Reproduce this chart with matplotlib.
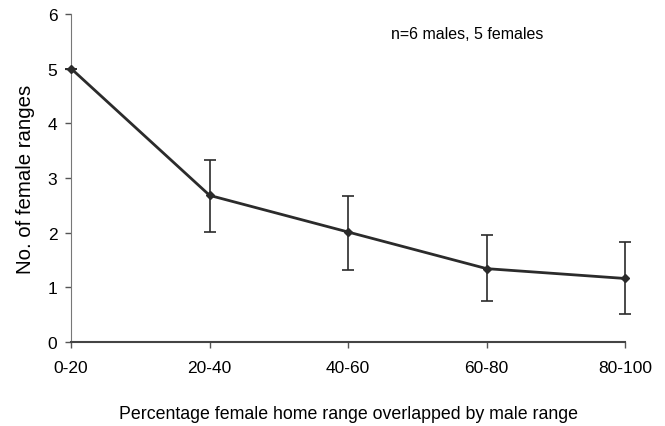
import matplotlib.pyplot as plt

categories = ["0-20", "20-40", "40-60", "60-80", "80-100"]
mean_ranges = [5.0, 2.68, 2.01, 1.34, 1.16]
err_low = [5.0, 2.01, 1.32, 0.74, 0.51]
err_high = [5.0, 3.33, 2.67, 1.96, 1.83]

yerr = [[m - lo for m, lo in zip(mean_ranges, err_low)],
        [hi - m for m, hi in zip(mean_ranges, err_high)]]

plt.rcParams['font.family'] = ['Liberation Sans', 'DejaVu Sans']

fig = plt.figure(figsize=(6.65, 4.27), dpi=100)
ax = fig.add_axes([0.107, 0.197, 0.833, 0.768])

x = list(range(len(categories)))
ax.errorbar(x, mean_ranges, yerr=yerr, color='#2b2b2b', linewidth=2,
            marker='D', markersize=4, elinewidth=1.2, ecolor='#2b2b2b',
            capsize=4, capthick=1.2, clip_on=False, zorder=3)

ax.set_xlim(0, 4)
ax.set_ylim(0, 6)
ax.set_yticks(range(0, 7))
ax.set_xticks(x)
ax.set_xticklabels(categories)
ax.tick_params(axis='both', labelsize=12.5, color='#555555', length=4, width=1)
ax.tick_params(axis='x', pad=9)
ax.tick_params(axis='y', pad=6)

for side in ['top', 'right']:
    ax.spines[side].set_visible(False)
ax.spines['left'].set_color('#777777')
ax.spines['bottom'].set_color('#444444')
ax.spines['bottom'].set_linewidth(1.5)

ax.set_ylabel("No. of female ranges", fontsize=14.7, labelpad=9)
ax.set_xlabel("Percentage female home range overlapped by male range",
              fontsize=12.8, labelpad=22)
ax.text(0.715, 0.94, "n=6 males, 5 females", transform=ax.transAxes,
        fontsize=11.5, ha='center', va='center')

fig.savefig("out.png", dpi=100)
